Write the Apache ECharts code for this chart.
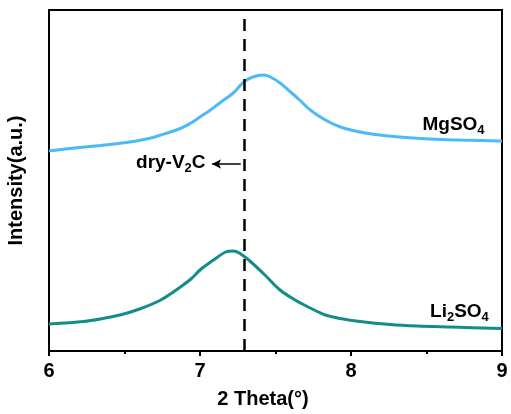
<!DOCTYPE html>
<html>
<head>
<meta charset="utf-8">
<script src="https://cdn.jsdelivr.net/npm/echarts@6/dist/echarts.min.js"></script>
<style>
  html, body { margin: 0; padding: 0; background: #fff; }
  #chart { width: 511px; height: 414px; }
</style>
</head>
<body>
<div id="chart"></div>
<script>
// 2-theta positions and intensities (arbitrary units, offset stacked)
const mgTheta = [6.00, 6.17, 6.34, 6.46, 6.56, 6.66, 6.74, 6.87, 6.94, 7.00, 7.07, 7.13, 7.22, 7.29, 7.35, 7.42, 7.46, 7.53, 7.60, 7.66, 7.73, 7.83, 7.93, 8.06, 8.19, 8.32, 8.46, 8.60, 8.72, 8.86, 9.00];
const mgIntensity = [200, 203, 205.5, 207.5, 209.5, 212.5, 216, 222.5, 228, 234, 241, 248, 258, 269, 274, 276, 274.5, 268, 259, 251, 241, 231, 224, 219, 216, 214, 212.5, 211.5, 211, 210.5, 210];

const liTheta = [6.00, 6.23, 6.34, 6.47, 6.60, 6.74, 6.87, 6.94, 7.00, 7.09, 7.17, 7.22, 7.26, 7.33, 7.43, 7.53, 7.63, 7.73, 7.83, 7.93, 8.06, 8.26, 8.44, 8.66, 9.00];
const liIntensity = [27, 29.5, 32, 36, 42, 51, 64, 72, 81, 91, 99, 100, 98, 90, 76, 61, 51, 43, 36, 32.5, 29.5, 26.5, 25, 24, 22.5];

const dryV2C = 7.29;
const xTicks = [6, 7, 8, 9];

const pairs = (xs, ys) => xs.map((x, i) => [x, ys[i]]);

const chart = echarts.init(document.getElementById('chart'));
const font = 'Liberation Sans, Arial, sans-serif';
const sub = {
  n: { fontSize: 19, fontWeight: 'bold', color: '#000', fontFamily: font, lineHeight: 24 },
  s: { fontSize: 13, fontWeight: 'bold', color: '#000', fontFamily: font, lineHeight: 24, padding: [10, 0, 0, 0] }
};

chart.setOption({
  animation: false,
  grid: { left: 49, right: 9, top: 10, bottom: 63, outerBoundsMode: 'none', show: true, borderColor: '#000', borderWidth: 2 },
  xAxis: {
    type: 'value', min: 6, max: 9, interval: 1,
    name: '2 Theta(°)', nameLocation: 'middle', nameGap: 38,
    nameTextStyle: { fontSize: 20, fontWeight: 'bold', fontFamily: font, color: '#000', padding: [0, 25, 0, 0] },
    axisLine: { lineStyle: { color: '#000', width: 2 } },
    axisTick: { inside: false, length: 5, lineStyle: { width: 2, color: '#000' } },
    minorTick: { show: true, splitNumber: 2, length: 3, lineStyle: { width: 2, color: '#000' } },
    splitLine: { show: false },
    axisLabel: { fontSize: 20, fontWeight: 'bold', fontFamily: font, color: '#000', margin: 10,
      formatter: v => xTicks.includes(v) ? String(v) : '' }
  },
  yAxis: {
    type: 'value', min: 0, max: 341,
    name: 'Intensity(a.u.)', nameLocation: 'middle', nameGap: 23,
    nameTextStyle: { fontSize: 20, fontWeight: 'bold', fontFamily: font, color: '#000', padding: [0, 0, 0, 0] },
    axisLine: { show: true, lineStyle: { color: '#000', width: 2 } },
    axisTick: { show: false },
    axisLabel: { show: false },
    splitLine: { show: false }
  },
  series: [
    {
      name: 'MgSO4', type: 'line', data: pairs(mgTheta, mgIntensity),
      smooth: 0.3, showSymbol: false, lineStyle: { color: '#4BBAF6', width: 3 },
      markPoint: {
        symbol: 'circle', symbolSize: 1, itemStyle: { color: 'transparent' },
        data: [
          { coord: [8.47, 226], label: { show: true, position: 'right', distance: 0, formatter: '{n|MgSO}{s|4}', rich: sub } },
          { coord: [7.04, 188], label: { show: true, position: 'left', distance: 0, formatter: '{n|dry-V}{s|2}{n|C}', rich: sub } }
        ]
      },
      markLine: {
        silent: true, symbol: 'none', label: { show: false },
        lineStyle: { color: '#000', width: 2.5, type: [12, 8] },
        data: [{ xAxis: dryV2C }]
      }
    },
    {
      name: 'Li2SO4', type: 'line', data: pairs(liTheta, liIntensity),
      smooth: 0.3, showSymbol: false, lineStyle: { color: '#138D86', width: 3 },
      markPoint: {
        symbol: 'circle', symbolSize: 1, itemStyle: { color: 'transparent' },
        data: [
          { coord: [8.52, 39], label: { show: true, position: 'right', distance: 0, formatter: '{n|Li}{s|2}{n|SO}{s|4}', rich: sub } }
        ]
      },
      markLine: {
        silent: true, symbol: ['none', 'arrow'], symbolSize: [7, 9], label: { show: false },
        lineStyle: { color: '#000', width: 1.5, type: 'solid' },
        data: [[{ coord: [7.27, 187] }, { coord: [7.08, 187] }]]
      }
    }
  ]
});
</script>
</body>
</html>
